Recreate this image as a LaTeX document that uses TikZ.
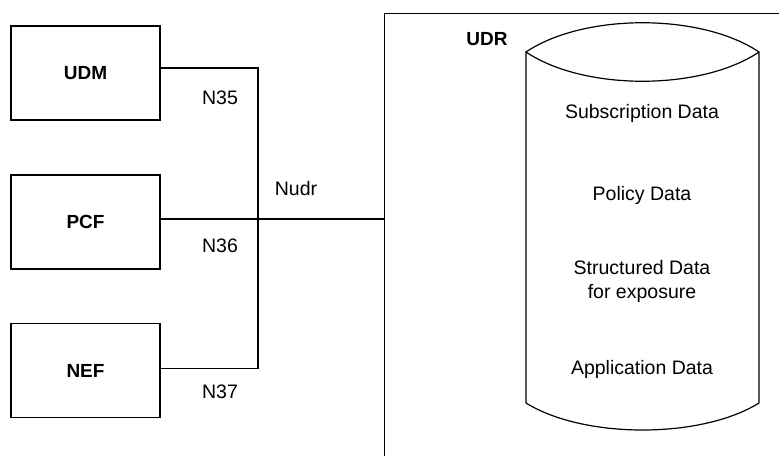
\documentclass[tikz,border=0pt]{standalone}
\usepackage{fontspec}
\setmainfont{Liberation Sans}
\usepackage{tikz}

\tikzset{
	nfbox/.style={draw,line width=0.6pt,minimum width=74.5pt,minimum height=47pt,font=\fontsize{9.5}{12}\selectfont\bfseries},
	txt/.style={font=\fontsize{9.75}{12}\selectfont,align=center},
}

\begin{document}
\begin{tikzpicture}[x=0.5pt,y=-0.5pt,line width=0.6pt]
	\clip (0,0) rectangle (779,455);
	% network functions
	\foreach \n/\t/\y in {udm/UDM/73,pcf/PCF/222,nef/NEF/370.5}{
		\node[nfbox] (\n) at (85.5,\y) {\t};
	}
	% UDR frame, runs past the page
	\node[draw,minimum width=220pt,minimum height=240pt,anchor=north west] (udr) at (384,13) {};
	\node[txt,font=\fontsize{9.5}{12}\selectfont\bfseries] (udrname) at (487,39) {UDR};
	
	\coordinate (bus) at (258,219);
	\draw ([yshift=2.5pt]udm.east) -| (bus) |- ([yshift=1.2pt]nef.east);
	\draw ([yshift=1.5pt]pcf.east) -- ([yshift=1.5pt]pcf.east -| udr.west);
	
	\foreach \i/\y in {35/98,36/246,37/392}{
		\node[txt] (n\i) at (220,\y) {N\i};
	}
	\node[txt] (nudr) at (296,189) {Nudr};
	
	% data store
	\draw[line join=miter] (526,52) .. controls (584,13) and (701,13) .. (759,52)
		.. controls (701,91) and (584,91) .. (526,52) -- (526,403)
		.. controls (584,439) and (701,439) .. (759,403) -- (759,52);
	\node[txt] (subs) at (642,113) {Subscription Data};
	\node[txt] (policy) at (642,195) {Policy Data};
	\node[txt] (struct) at (642,281) {Structured Data\\for exposure};
	\node[txt] (app) at (642,369) {Application Data};
	
\end{tikzpicture}
\end{document}
